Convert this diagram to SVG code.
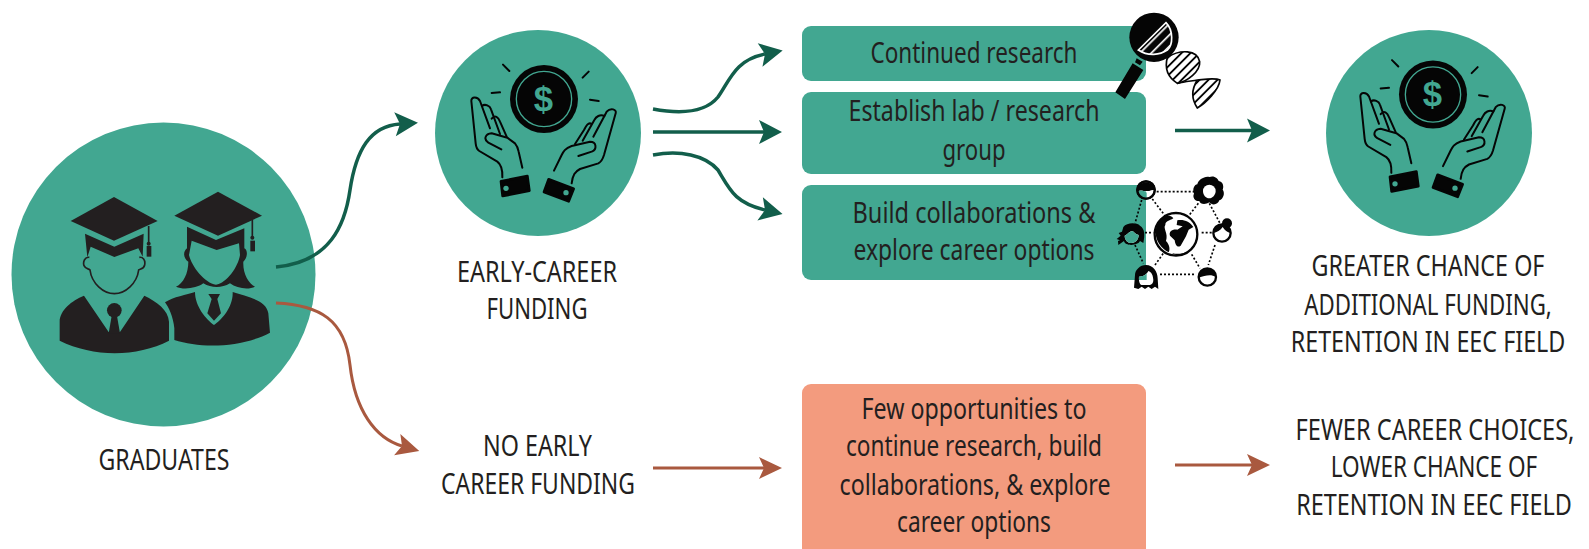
<svg xmlns="http://www.w3.org/2000/svg" width="1589" height="549" viewBox="0 0 1589 549">
<style>
text{font-family:"Liberation Sans Narrow","Noto Sans","Liberation Sans",sans-serif;font-size:29px;fill:#231f20;text-anchor:middle}
.teal{fill:#42a791}
.peach{fill:#f39b7e}
.g{fill:none;stroke:#125e4b;stroke-width:3.5}
.r{fill:none;stroke:#a9593f;stroke-width:3}
.ink{fill:#231f20}
.bk{fill:#050505}
.ln{fill:none;stroke:#050505;stroke-width:6;stroke-linecap:round;stroke-linejoin:round}
.dash{fill:none;stroke:#050505;stroke-width:5;stroke-dasharray:6 6}
text.dollar{font-family:"Liberation Sans",sans-serif;font-weight:700;font-size:104px;fill:#42a791}
</style>
<defs>
<marker id="ag" markerUnits="userSpaceOnUse" markerWidth="26" markerHeight="26" refX="6" refY="13" orient="auto"><path d="M1,1 L24,13 L1,25 L6,13Z" fill="#125e4b"/></marker>
<marker id="ar" markerUnits="userSpaceOnUse" markerWidth="26" markerHeight="26" refX="6" refY="13" orient="auto"><path d="M1,2 L24,13 L1,24 L6,13Z" fill="#a9593f"/></marker>
<pattern id="hatch" patternUnits="userSpaceOnUse" width="19" height="19" patternTransform="rotate(-45)"><rect width="19" height="19" fill="#fff"/><rect width="19" height="5.500" fill="#050505"/></pattern>
<pattern id="hatchw" patternUnits="userSpaceOnUse" width="24" height="24" patternTransform="rotate(-45)"><rect width="24" height="24" fill="#050505"/><rect width="24" height="5" fill="#fff"/></pattern>
<clipPath id="onTeal"><rect x="0" y="0" width="170" height="345"/></clipPath>
<path id="face-tl" d="M142,80 C155,72 165,80 172,84 C178,76 185,74 195,76 C193,92 182,102 168,102 C155,102 145,92 142,80Z"/>
<path id="face-l" d="M104,212 C112,208 120,198 128,198 C135,205 140,208 146,210 C146,225 135,234 124,234 C112,234 104,224 104,212Z"/>
<path id="face-bl" d="M147,335 C160,335 170,328 175,318 C185,322 189,330 190,345 C190,352 187,358 180,360 L155,360 C148,358 146,345 147,335Z"/>
<g id="hands">
<circle class="bk" cx="372" cy="237" r="102"/>
<circle cx="372" cy="237" r="83" fill="none" stroke="#42a791" stroke-width="4"/>
<text class="dollar" x="370" y="273">$</text>
<path class="ln" d="M249,134 L268,153 M215,219 L240,217 M488,173 L506,155 M510,239 L536,243"/>
<path class="ln" d="M247,472 C248,450 245,435 232,425 L178,393 C170,388 168,380 167,370 L154,243 C153,230 172,228 180,243 L210,325"/>
<path class="ln" d="M186,258 C195,250 210,258 213,268 L240,342 M215,296 C225,283 235,292 240,305 L260,350"/>
<path class="ln" d="M244,388 L205,368 C190,358 195,342 215,340 L262,353 L285,370 C292,378 294,385 296,395 L307,443"/>
<path class="bk" stroke="#050505" stroke-width="8" stroke-linejoin="round" d="M243,484 L322,468 L328,512 L248,528Z"/>
<circle class="teal" cx="258" cy="505" r="8"/>
<path class="ln" d="M455,490 C458,465 465,455 480,447 L535,430 C545,425 548,418 552,405 L587,280 C591,268 572,262 560,275 L520,350"/>
<path class="ln" d="M553,288 C540,282 528,290 523,300 L488,362 M515,312 C505,305 498,318 492,330 L465,372"/>
<path class="ln" d="M475,408 L515,395 C532,388 530,365 510,365 L455,378 C435,385 430,395 425,405 L402,452"/>
<path class="bk" stroke="#050505" stroke-width="8" stroke-linejoin="round" d="M386,478 L461,506 L446,544 L372,516Z"/>
<circle class="teal" cx="438" cy="518" r="8"/>
</g>
</defs>

<g id="graduates">
<circle class="teal" cx="163.500" cy="274.500" r="152"/>
<g transform="translate(0,120) scale(.33333)">
<path class="ink" d="M212,303 L342,231 L473,303 L342,362Z"/>
<path class="ink" d="M255,341 L343,380 L431,341 L428,410 L415,385 L343,411 L272,380 L262,412Z"/>
<path fill="none" stroke="#231f20" stroke-width="5" d="M446,318 V370 M268,412 C255,410 248,425 252,437 C256,447 268,447 270,450 C275,490 310,521 343,521 C376,521 411,490 416,450 C420,447 432,447 434,435 C437,420 428,410 418,412"/>
<circle class="ink" cx="446" cy="371" r="6"/><rect class="ink" x="440" y="378" width="14" height="32"/>
<path class="ink" d="M252,527 C215,542 180,570 179,605 L179,662 C280,712 410,712 507,662 L507,605 C505,570 470,545 433,527 L360,636 L326,636Z"/>
<circle class="ink" cx="343" cy="571" r="22"/>
<path class="ink" d="M335,588 L351,588 L360,640 L326,640Z"/>
<path class="ink" d="M523,287 L654,215 L786,287 L654,347Z"/>
<path fill="none" stroke="#231f20" stroke-width="5" d="M757,300 V352"/>
<circle class="ink" cx="757" cy="353" r="6"/><rect class="ink" x="751" y="362" width="14" height="32"/>
<path class="ink" d="M561,320 L648,360 L733,325 V385 C745,390 742,415 730,425 C728,460 745,490 765,500 C745,510 710,505 690,490 C665,505 635,505 610,490 C590,505 550,510 528,500 C550,490 565,460 565,425 C550,415 548,395 561,385Z"/>
<path class="teal" d="M575,362 L650,390 L717,370 L720,405 C715,440 680,490 648,494 C615,490 575,440 567,405Z"/>
<path class="ink" d="M585,516 C585,560 620,600 642,615 C665,600 700,560 698,516 C740,530 800,540 805,580 L810,638 C720,685 600,685 523,660 L523,625 C520,590 505,560 495,547 C520,530 560,525 585,516Z"/>
<path class="ink" d="M625,522 L660,522 L652,537 L663,580 L642,602 L622,580 L635,537Z"/>
</g>
<text x="164" y="470" textLength="131" lengthAdjust="spacingAndGlyphs">GRADUATES</text>
</g>

<g id="early-career-funding">
<circle class="teal" cx="538" cy="133" r="103"/>
<use href="#hands" transform="translate(420,20) scale(.33333)"/>
<text x="537" y="282" textLength="160" lengthAdjust="spacingAndGlyphs">EARLY-CAREER</text>
<text x="537" y="319" textLength="101" lengthAdjust="spacingAndGlyphs">FUNDING</text>
</g>

<g id="continued-research">
<rect class="teal" x="802" y="26" width="344" height="55" rx="9"/>
<text x="974" y="63" textLength="207" lengthAdjust="spacingAndGlyphs">Continued research</text>
</g>

<g id="establish-lab">
<rect class="teal" x="802" y="92" width="344" height="82" rx="9"/>
<text x="974" y="121" textLength="251" lengthAdjust="spacingAndGlyphs">Establish lab / research</text>
<text x="974" y="160" textLength="63" lengthAdjust="spacingAndGlyphs">group</text>
</g>

<g id="build-collaborations">
<rect class="teal" x="802" y="185" width="344" height="95" rx="9"/>
<text x="974" y="223" textLength="243" lengthAdjust="spacingAndGlyphs">Build collaborations &amp;</text>
<text x="974" y="260" textLength="241" lengthAdjust="spacingAndGlyphs">explore career options</text>
</g>

<g id="dna-icon" transform="translate(1090,0) scale(.33333)">
<path fill="url(#hatch)" stroke="#050505" stroke-width="5" d="M232,172 C270,148 322,148 329,185 C332,215 290,245 262,250 C238,235 222,210 232,172Z"/>
<path fill="url(#hatch)" stroke="#050505" stroke-width="5" d="M262,250 C285,245 305,243 322,240 C345,238 375,233 390,240 C387,270 347,310 322,324 C306,300 303,270 322,240"/>
<circle class="bk" cx="192" cy="112" r="74"/>
<path fill="url(#hatchw)" stroke="#fff" stroke-width="5" d="M228,68 C250,90 250,135 232,150 C210,165 175,170 145,150Z"/>
<path class="bk" d="M128,190 L160,210 L105,297 L76,277Z M140,175 L158,185 L150,196 L135,187Z"/>
</g>

<g id="network-icon" transform="translate(1090,165) scale(.33333)">
<path class="dash" d="M200,80 H312 M155,105 L135,175 M187,102 L227,155 M325,115 L298,150 M358,115 L390,175 M335,203 H368 M165,203 H190 M375,240 L355,300 M305,268 L330,310 M210,328 H315 M195,300 L220,265 M135,240 L160,295"/>

<circle cx="168" cy="75" r="26" fill="none" stroke="#050505" stroke-width="7"/>
<path class="bk" d="M142,78 A26,26 0 0 1 194,78 L142,78Z"/>
<use href="#face-tl" fill="#fff"/><use href="#face-tl" class="teal" clip-path="url(#onTeal)"/>
<circle cx="168" cy="75" r="26" fill="none" stroke="#050505" stroke-width="7"/>

<path class="bk" d="M358,36 C372,30 384,40 386,48 C400,50 402,66 398,74 C406,84 400,102 388,106 C384,120 366,122 358,112 C346,120 330,118 328,108 C316,110 306,97 312,86 C306,72 314,58 322,58 C324,45 344,32 358,36Z"/>
<path fill="#fff" d="M339,78 A19,19 0 0 1 377,78 C377,90 367,100 358,100 C347,100 339,90 339,78Z"/>

<circle cx="396" cy="204" r="26" fill="#fff" stroke="#050505" stroke-width="7"/>
<path class="bk" d="M370,204 C380,202 392,196 398,186 C404,196 412,202 422,204 A26,26 0 0 0 370,204Z"/>
<circle class="bk" cx="411" cy="175" r="15"/>

<circle cx="352" cy="336" r="26" fill="#fff" stroke="#050505" stroke-width="7"/>
<path class="bk" d="M326,338 A26,26 0 0 1 378,336 C362,326 345,332 326,338Z"/>

<path class="bk" d="M100,186 C110,172 140,172 150,182 C165,192 165,210 160,234 L150,228 C145,242 105,245 102,228 L85,240 L84,228 L90,226 L80,222 L92,212 L86,204 L96,200Z"/>
<use href="#face-l" fill="#fff"/><use href="#face-l" class="teal" clip-path="url(#onTeal)"/>

<path class="bk" d="M135,330 C135,315 150,300 168,300 C190,300 203,320 203,340 L205,372 L195,365 L185,372 L175,365 L165,372 L155,365 L145,372 L132,368Z"/>
<use href="#face-bl" fill="#fff"/><use href="#face-bl" class="teal" clip-path="url(#onTeal)"/>

<circle cx="258" cy="208" r="64" fill="#fff" stroke="#050505" stroke-width="7"/>
<path class="bk" d="M222,156 C235,150 245,152 250,160 C238,168 226,168 226,180 C218,190 236,205 228,228 C240,240 240,255 236,262 C214,250 196,228 197,200 C198,182 208,166 222,156Z"/>
<path class="bk" d="M262,166 C280,162 300,170 310,186 L296,194 L288,214 L272,242 C262,250 256,240 254,226 L240,212 C236,200 246,192 262,194 L278,184 L260,180Z"/>
<path class="bk" d="M246,264 C260,268 275,268 290,260 L284,268 C270,274 255,272 246,264Z"/>
</g>

<g id="greater-chance">
<circle class="teal" cx="1429" cy="133" r="103"/>
<use href="#hands" transform="translate(1309,15.500) scale(.33333)"/>
<text transform="translate(1428,276) scale(.82,1)" textLength="284" lengthAdjust="spacingAndGlyphs">GREATER CHANCE OF</text>
<text transform="translate(1428,315) scale(.82,1)" textLength="302" lengthAdjust="spacingAndGlyphs">ADDITIONAL FUNDING,</text>
<text transform="translate(1428,352) scale(.82,1)" textLength="335" lengthAdjust="spacingAndGlyphs">RETENTION IN EEC FIELD</text>
</g>

<g id="no-early-career-funding">
<text x="537.500" y="456" textLength="109" lengthAdjust="spacingAndGlyphs">NO EARLY</text>
<text x="538" y="494" textLength="194" lengthAdjust="spacingAndGlyphs">CAREER FUNDING</text>
</g>

<g id="few-opportunities">
<rect class="peach" x="802" y="384" width="344" height="175" rx="9"/>
<text x="974" y="419" textLength="225" lengthAdjust="spacingAndGlyphs">Few opportunities to</text>
<text x="974" y="456" textLength="256" lengthAdjust="spacingAndGlyphs">continue research, build</text>
<text x="975" y="495" textLength="271" lengthAdjust="spacingAndGlyphs">collaborations, &amp; explore</text>
<text x="974" y="532" textLength="154" lengthAdjust="spacingAndGlyphs">career options</text>
</g>

<g id="fewer-career-choices">
<text transform="translate(1435,440) scale(.82,1)" textLength="340" lengthAdjust="spacingAndGlyphs">FEWER CAREER CHOICES,</text>
<text transform="translate(1434,477) scale(.82,1)" textLength="252" lengthAdjust="spacingAndGlyphs">LOWER CHANCE OF</text>
<text transform="translate(1434,515) scale(.82,1)" textLength="336" lengthAdjust="spacingAndGlyphs">RETENTION IN EEC FIELD</text>
</g>

<g id="connectors">
<path class="g" marker-end="url(#ag)" d="M276,267 C330,262 345,225 350,190 C356,150 370,126 400,124"/>
<path class="r" marker-end="url(#ar)" d="M276,303 C320,305 345,320 350,365 C355,410 375,438 402,446"/>
<path class="g" marker-end="url(#ag)" d="M653,109 C680,114 705,113 718,97 C730,80 735,60 765,54"/>
<path class="g" marker-end="url(#ag)" d="M653,132 H764"/>
<path class="g" marker-end="url(#ag)" d="M653,155 C680,150 705,155 718,170 C730,190 735,203 765,210"/>
<path class="g" marker-end="url(#ag)" d="M1175,130.500 H1252"/>
<path class="r" marker-end="url(#ar)" d="M653,468 H764"/>
<path class="r" marker-end="url(#ar)" d="M1175,465 H1252"/>
</g>
</svg>
